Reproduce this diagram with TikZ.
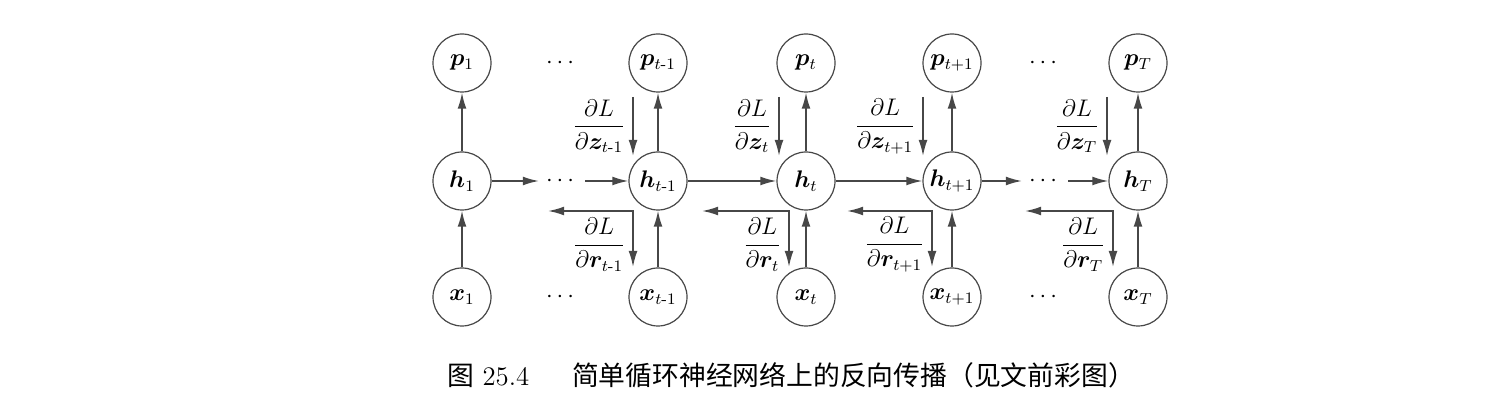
\documentclass[tikz,border=0pt]{standalone}
\usepackage{amsmath}
\usepackage{amssymb}
\usepackage{bm}
\usepackage{fontspec}
\newfontfamily\cjk{Noto Sans CJK SC}
\usetikzlibrary{positioning, arrows.meta, calc}

\begin{document}
\begin{tikzpicture}[x=0.5pt,y=-0.5pt,>={Latex[length=8pt,width=4.4pt]},
                    font=\fontsize{12}{14}\selectfont,node distance=59pt,
                    every edge/.style={draw=black!72,line width=0.8pt},
                    main node/.style={circle,draw=black!72,line width=0.6pt,minimum size=29pt,inner sep=0pt},
                    grad/.style={draw=black!72,line width=0.8pt}]
  \useasboundingbox (0,0) rectangle (1486,410);

  % top row
  \node[main node] (p1)  at (462,63)  {$\bm{p}_1$};
  \node[main node] (ptm) at (658,63)  {$\bm{p}_{t\text{-}1}$};
  \node[main node] (pt)  at (806,63)  {$\bm{p}_t$};
  \node[main node] (ptp) at (952,63)  {$\bm{p}_{t+1}$};
  \node[main node] (pT)  at (1138,63) {$\bm{p}_T$};
  \node (dp1) at (562,63)  {$\cdots$};
  \node (dp2) at (1045,63) {$\cdots$};

  % hidden row
  \node[main node] (h1)  [below of=p1]  {$\bm{h}_1$};
  \node[main node] (htm) [below of=ptm] {$\bm{h}_{t\text{-}1}$};
  \node[main node] (ht)  [below of=pt]  {$\bm{h}_t$};
  \node[main node] (htp) [below of=ptp] {$\bm{h}_{t+1}$};
  \node[main node] (hT)  [below of=pT]  {$\bm{h}_T$};
  \node (dh1) [below of=dp1] {$\cdots$};
  \node (dh2) [below of=dp2] {$\cdots$};

  % input row
  \node[main node] (x1)  [below of=h1,node distance=58pt]  {$\bm{x}_1$};
  \node[main node] (xtm) [below of=htm,node distance=58pt] {$\bm{x}_{t\text{-}1}$};
  \node[main node] (xt)  [below of=ht,node distance=58pt]  {$\bm{x}_t$};
  \node[main node] (xtp) [below of=htp,node distance=58pt] {$\bm{x}_{t+1}$};
  \node[main node] (xT)  [below of=hT,node distance=58pt]  {$\bm{x}_T$};
  \node (dx1) [below of=dh1,node distance=58pt] {$\cdots$};
  \node (dx2) [below of=dh2,node distance=58pt] {$\cdots$};

  \path[->]
   (x1) edge (h1)  (h1) edge (p1)
   (xtm) edge (htm) (htm) edge (ptm)
   (xt) edge (ht)  (ht) edge (pt)
   (xtp) edge (htp) (htp) edge (ptp)
   (xT) edge (hT)  (hT) edge (pT)
   (h1) edge (dh1) (dh1) edge (htm)
   (htm) edge (ht) (ht) edge (htp)
   (htp) edge (dh2) (dh2) edge (hT);

  % gradients from the outputs
  \coordinate (za1) at ($(htm)+(-25,-84)$); \coordinate (zb1) at ($(htm)+(-25,-25)$);
  \coordinate (za2) at ($(ht)+(-27,-84)$);  \coordinate (zb2) at ($(ht)+(-27,-25)$);
  \coordinate (za3) at ($(htp)+(-29,-84)$); \coordinate (zb3) at ($(htp)+(-29,-25)$);
  \coordinate (za4) at ($(hT)+(-31,-84)$);  \coordinate (zb4) at ($(hT)+(-31,-25)$);
  \draw[grad,->] (za1) -- node[left] {$\dfrac{\partial L}{\partial \bm{z}_{t\text{-}1}}$} (zb1);
  \draw[grad,->] (za2) -- node[left] {$\dfrac{\partial L}{\partial \bm{z}_t}$} (zb2);
  \draw[grad,->] (za3) -- node[left] {$\dfrac{\partial L}{\partial \bm{z}_{t+1}}$} (zb3);
  \draw[grad,->] (za4) -- node[left] {$\dfrac{\partial L}{\partial \bm{z}_T}$} (zb4);

  % gradients sent back through time
  \coordinate (ra1) at ($(htm)+(-110,30)$); \coordinate (rb1) at ($(htm)+(-25,86)$);
  \coordinate (ra2) at ($(ht)+(-104,30)$);  \coordinate (rb2) at ($(ht)+(-17,86)$);
  \coordinate (ra3) at ($(htp)+(-105,30)$); \coordinate (rb3) at ($(htp)+(-20,86)$);
  \coordinate (ra4) at ($(hT)+(-113,30)$);  \coordinate (rb4) at ($(hT)+(-25,86)$);
  \draw[grad,<->] (ra1) -| node[pos=0.8,left] {$\dfrac{\partial L}{\partial \bm{r}_{t\text{-}1}}$} (rb1);
  \draw[grad,<->] (ra2) -| node[pos=0.8,left] {$\dfrac{\partial L}{\partial \bm{r}_t}$} (rb2);
  \draw[grad,<->] (ra3) -| node[pos=0.8,left] {$\dfrac{\partial L}{\partial \bm{r}_{t+1}}$} (rb3);
  \draw[grad,<->] (ra4) -| node[pos=0.8,left] {$\dfrac{\partial L}{\partial \bm{r}_T}$} (rb4);

  \node[anchor=west,font=\fontsize{13.4}{16}\selectfont] (cap) at (440,375)
    {{\cjk 图}\ 25.4\hspace{1.6em}{\cjk 简单循环神经网络上的反向传播（见文前彩图）}};
\end{tikzpicture}
\end{document}
